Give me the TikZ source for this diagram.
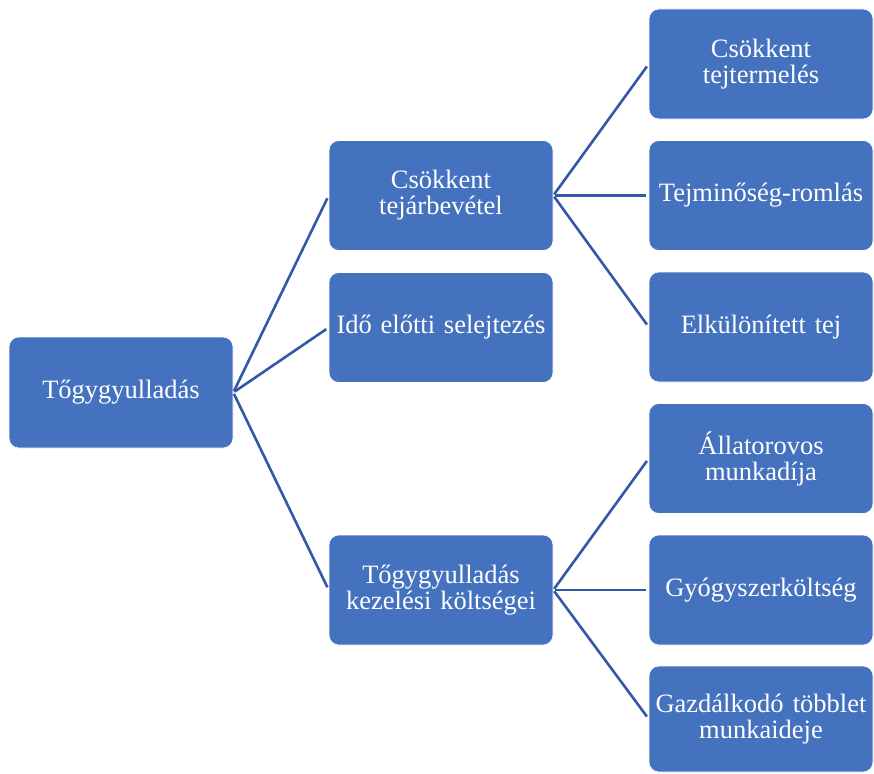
\documentclass[tikz,border=0pt]{standalone}
\usepackage{fontspec}
\setmainfont{Liberation Serif}
\definecolor{boxblue}{RGB}{68,114,190}
\definecolor{lineblue}{RGB}{52,88,168}
\begin{document}
\begin{tikzpicture}[x=1pt,y=-1pt,
  box/.style={rectangle, rounded corners=10pt, fill=boxblue, draw=white, line width=0.6pt,
    minimum width=224pt, minimum height=110pt, inner sep=2pt, text=white, align=center,
    text width=218pt, font=\fontsize{26.5}{26}\selectfont},
  link/.style={draw=lineblue, line width=2.6pt, shorten <=1.5pt, shorten >=3pt}]
\useasboundingbox (0,0) rectangle (874,773);
\clip (0,0) rectangle (874,773);
\node[box, minimum height=111pt] (root) at (121,392.5) {Tőgygyulladás};
\node[box] (a) at (441,195.5) {Csökkent\\tejárbevétel};
\node[box] (b) at (441,327.5) {Idő előtti selejtezés};
\node[box] (c) at (441,590) {Tőgygyulladás\\kezelési költségei};
\node[box] (a1) at (761,64) {Csökkent\\tejtermelés};
\node[box] (a2) at (761,195.5) {Tejminőség-romlás};
\node[box] (a3) at (761,327) {Elkülönített tej};
\node[box] (c1) at (761,458.5) {Állatorovos\\munkadíja};
\node[box] (c2) at (761,590) {Gyógyszerköltség};
\node[box, minimum height=106pt] (c3) at (761,719) {Gazdálkodó\hspace{0.35em}többlet\\munkaideje};
\foreach \t in {a,b,c} \draw[link] (root.east) -- (\t.west);
\foreach \t in {a1,a2,a3} \draw[link] (a.east) -- (\t.west);
\foreach \t in {c1,c2,c3} \draw[link] (c.east) -- (\t.west);
\end{tikzpicture}
\end{document}
